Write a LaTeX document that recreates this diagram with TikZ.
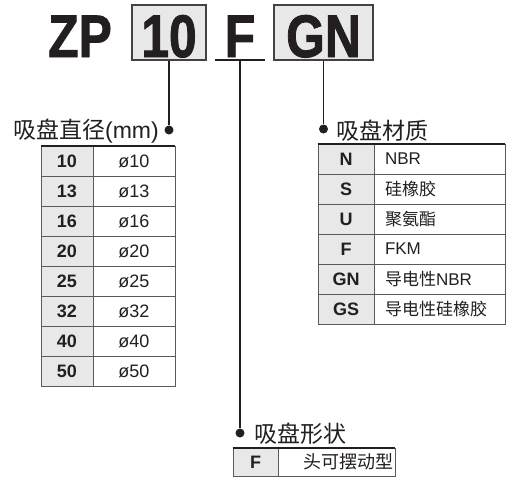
\documentclass[tikz,border=0pt]{standalone}
\usepackage{graphicx}
\usepackage{fontspec}
\setmainfont{Liberation Sans}
\newfontfamily\cjk{Noto Sans CJK SC}
\newfontfamily\heavyfont[FakeBold=1.6]{Liberation Sans Bold}
\newcommand{\zh}[1]{{\cjk #1}}
\newcommand{\squeeze}[1]{\scalebox{0.83}[1]{#1}}
\definecolor{cellgray}{HTML}{E8E8E8}
\definecolor{rulegray}{HTML}{5A5A5A}
\definecolor{inkdark}{HTML}{231F20}
\tikzset{
    headtext/.style={inner sep=0pt, text=inkdark,
        font=\fontsize{60}{60}\selectfont\heavyfont},
    headbox/.style={headtext, rectangle, draw=inkdark!85, fill=cellgray,
        line width=1.4pt, minimum width=74pt, minimum height=55pt,
        text height=49pt, text depth=0pt},
    headplain/.style={headtext, rectangle, minimum width=50pt,
        minimum height=55pt, text height=49pt, text depth=0pt}
}
\tikzset{
    codecell/.style={rectangle, draw=rulegray, fill=cellgray, line width=0.8pt,
        minimum height=30pt, inner sep=0pt, text=inkdark,
        font=\fontsize{18}{18}\selectfont\bfseries},
    valcell/.style={rectangle, draw=rulegray, fill=white, line width=0.8pt,
        minimum height=30pt, inner sep=0pt, text=inkdark,
        font=\fontsize{17}{17}\selectfont},
    topline/.style={line width=1.8pt, draw=inkdark}
}
\tikzset{
    dot/.style={circle, fill=inkdark, inner sep=0pt, minimum size=9pt},
    leader/.style={line width=1.8pt, draw=inkdark},
    title/.style={inner sep=0pt, text=inkdark, font=\fontsize{23}{23}\selectfont}
}

\begin{document}
\begin{tikzpicture}[x=1pt, y=-1pt]
	\useasboundingbox (0,0) rectangle (506,477);
	% part number
	\node[headtext, anchor=base] (zp) at (80,57) {\squeeze{ZP}};
	\node[headbox] (size) at (169,32.5) {\squeeze{10}};
	\node[headplain] (shape) at (240,32.5) {\squeeze{F}};
	\node[headbox, minimum width=99pt] (mat) at (323.5,32.5) {\squeeze{GN}};
	\draw[leader] (shape.south west) -- (shape.south east);
	
	% dots and titles
	\node[dot] (dsize) at (169,130) {};
	\node[title, anchor=east] (tsize) at (159,131) {\zh{吸盘直径}(mm)};
	\node[dot] (dmat) at (323.5,129) {};
	\node[title, anchor=west] (tmat) at (336,131) {\zh{吸盘材质}};
	\node[dot] (dshape) at (240,433) {};
	\node[title, anchor=west] (tshape) at (254,434) {\zh{吸盘形状}};
	
	\draw[leader] (size.south) -- (dsize);
	\draw[leader] (shape.south) -- (dshape);
	\draw[leader] (mat.south) -- (dmat);
	
	% diameter table
	\foreach \c [count=\i] in {10,13,16,20,25,32,40,50} {
		\node[codecell, minimum width=52pt] (sc\i) at (67,131+30*\i) {\c};
		\node[valcell, minimum width=82pt, font=\fontsize{18}{18}\selectfont]
			(sv\i) at (134,131+30*\i) {ø\c};
	}
	\draw[topline] (sc1.north west) -- (sv1.north east);
	
	% material table
	\foreach \c/\v [count=\i] in {N/NBR, S/\zh{硅橡胶}, U/\zh{聚氨酯}, F/FKM,
		GN/\zh{导电性}NBR, GS/\zh{导电性硅橡胶}} {
		\node[codecell, minimum width=56pt] (mc\i) at (346,129+30*\i) {\c};
		\node[valcell, text width=109pt, align=left, inner xsep=11pt,
			minimum width=131pt] (mv\i) at (439.5,129+30*\i) {\v};
	}
	\draw[topline] (mc1.north west) -- (mv1.north east);
	
	% shape table
	\node[codecell, minimum width=45pt, minimum height=28pt] (fc) at (255.5,462) {F};
	\node[valcell, minimum width=117pt, minimum height=28pt, text width=113pt,
		align=right, inner xsep=2pt, font=\fontsize{18}{18}\selectfont]
		(fv) at (336.5,462) {\zh{头可摆动型}};
	\draw[topline] (fc.north west) -- (fv.north east);
\end{tikzpicture}
\end{document}
